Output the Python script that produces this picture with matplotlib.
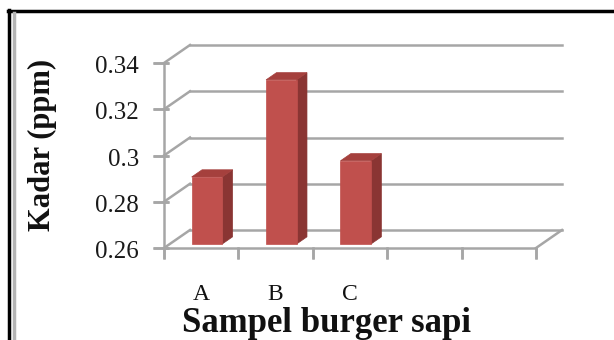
import matplotlib
matplotlib.use("Agg")
import matplotlib.pyplot as plt
from matplotlib.patches import Polygon
from matplotlib.lines import Line2D
from matplotlib.transforms import ScaledTranslation

plt.rcParams["font.family"] = ["Liberation Serif", "DejaVu Serif"]

# data
categories = ["A", "B", "C"]
values = [0.289, 0.331, 0.296]
n_slots = 5
yticks = [0.26, 0.28, 0.30, 0.32, 0.34]
ytick_labels = ["0.26", "0.28", "0.3", "0.32", "0.34"]
ymin, ymax = 0.26, 0.34

W, H = 614, 340
fig = plt.figure(figsize=(W / 100, H / 100), dpi=100)
fig.patch.set_facecolor("white")

# front plane of the 3d plot, in pixels from top-left
left, right, top, bottom = 164, 536, 63, 248
ax = fig.add_axes([left / W, (H - bottom) / H, (right - left) / W, (bottom - top) / H])
ax.set_xlim(0, n_slots)
ax.set_ylim(ymin, ymax)
ax.axis("off")

# oblique depth offset (pixels) -> data units
depth_px = (26, 18)
DX = depth_px[0] / (ax.bbox.width / n_slots)
DY = depth_px[1] / (ax.bbox.height / (ymax - ymin))


def P(x, v, d):
    return (x + d * DX, v + d * DY)


def off(dx, dy):
    return ax.transData + ScaledTranslation(dx, dy, fig.dpi_scale_trans)


grid_c = "#a6a6a6"
lw = 1.8

# back wall + left wall gridlines
for v in yticks:
    ax.add_line(Line2D(*zip(P(0, v, 1), P(n_slots, v, 1)), color=grid_c, lw=lw, clip_on=False, zorder=1))
    ax.add_line(Line2D(*zip(P(0, v, 0), P(0, v, 1)), color=grid_c, lw=lw, clip_on=False, zorder=1))

# floor edges and front axis
ax.add_line(Line2D([0, n_slots], [ymin, ymin], color=grid_c, lw=lw, clip_on=False, zorder=2))
ax.add_line(Line2D(*zip(P(n_slots, ymin, 0), P(n_slots, ymin, 1)), color=grid_c, lw=lw, clip_on=False, zorder=2))
ax.add_line(Line2D([0, 0], [ymin, ymax], color=grid_c, lw=lw, clip_on=False, zorder=2))

# tick marks (short segments offset in inches)
for v in yticks:
    ax.add_line(Line2D([0, 0], [v, v], color=grid_c, lw=lw, clip_on=False,
                       marker="_", markersize=12, markeredgewidth=lw,
                       transform=off(-0.03, 0)))
for i in range(n_slots + 1):
    ax.add_line(Line2D([i, i], [ymin, ymin], color=grid_c, lw=lw, clip_on=False,
                       marker="|", markersize=9, markeredgewidth=lw,
                       transform=off(0, -0.045)))

# bars
front_c, side_c, top_c = "#c0504d", "#8a3533", "#a5403d"
w = 0.41
d0, d1 = 0.22, 0.62
for i, v in enumerate(values):
    xc = i + 0.5
    x0, x1 = xc - w / 2, xc + w / 2
    side = [P(x1, ymin, d0), P(x1, ymin, d1), P(x1, v, d1), P(x1, v, d0)]
    topf = [P(x0, v, d0), P(x1, v, d0), P(x1, v, d1), P(x0, v, d1)]
    front = [P(x0, ymin, d0), P(x1, ymin, d0), P(x1, v, d0), P(x0, v, d0)]
    for pts, c in ((side, side_c), (topf, top_c), (front, front_c)):
        ax.add_patch(Polygon(pts, closed=True, facecolor=c, edgecolor=c, lw=0.5, clip_on=False, zorder=3))

# tick labels
for v, lab in zip(yticks, ytick_labels):
    ax.text(0, v, lab, ha="right", va="center", fontsize=18, color="#1a1a1a",
            transform=off(-0.25, -0.04))
for i, lab in enumerate(categories):
    ax.text(i + 0.5, ymin, lab, ha="center", va="center", fontsize=17, color="#111111",
            transform=off(0.0, -0.47))

# axis titles
fig.text(326 / W, 1 - 332 / H, "Sampel burger sapi", ha="center", va="baseline",
         fontsize=25, fontweight="bold", color="#111111")
fig.text(42 / W, 1 - 145 / H, "Kadar (ppm)", ha="center", va="center", rotation=90,
         fontsize=22, fontweight="bold", color="#111111")

# frame around the picture
fig.add_artist(Line2D([8 / W, 1], [1 - 11 / H, 1 - 11 / H], color="black", lw=2.5, transform=fig.transFigure))
fig.add_artist(Line2D([9 / W, 9 / W], [0, 1 - 10 / H], color="black", lw=2.5, transform=fig.transFigure))
fig.add_artist(Line2D([14 / W, 14 / W], [0, 1 - 13 / H], color="#b4b4b4", lw=2.5, transform=fig.transFigure))

fig.savefig("out.png", dpi=100)
